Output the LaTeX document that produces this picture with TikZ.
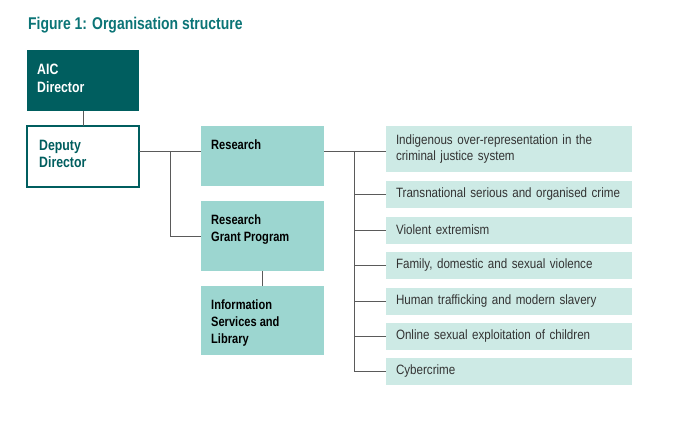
\documentclass[tikz,border=0pt]{standalone}
\usepackage{fontspec}
\setmainfont[FakeStretch=0.86, BoldFeatures={FakeStretch=0.82}]{Liberation Sans}
\usetikzlibrary{positioning}

\definecolor{aicdark}{HTML}{005E5F}
\definecolor{aicteal}{HTML}{0B7476}
\definecolor{aicmid}{HTML}{9CD6D0}
\definecolor{aiclight}{HTML}{CDEAE5}
\definecolor{aicline}{HTML}{5A5A5A}
\definecolor{aictext}{HTML}{333333}

\begin{document}
\begin{tikzpicture}[x=1pt, y=-1pt,
    unit/.style={anchor=north west, inner sep=0pt, outer sep=0pt},
    lead/.style={unit, minimum width=112pt, minimum height=61pt},
    branch/.style={unit, fill=aicmid, minimum width=123pt},
    topic/.style={unit, fill=aiclight, text=aictext, align=left, text width=226pt,
      inner xsep=10pt, minimum height=27pt, font=\fontsize{13.5}{16}\selectfont},
    lbl/.style={anchor=north west, inner sep=0pt, align=left, xshift=10pt, yshift=-14pt},
    link/.style={draw=aicline, line width=1pt}]
    \useasboundingbox (0,0) rectangle (682,436);

    \node[anchor=base west, inner sep=0pt, text=aicteal, font=\fontsize{17}{20}\bfseries\selectfont]
      (title) at (28,30) {Figure 1: Organisation structure};

    % leadership
    \node[lead, fill=aicdark,
      label={[lbl, text=white, font=\fontsize{15}{18}\bfseries\selectfont]north west:AIC\\Director}]
      (director) at (27,50) {};
    \node[lead, draw=aicdark, line width=2pt, fill=white,
      label={[lbl, xshift=2pt, text=aicdark, font=\fontsize{15}{17}\bfseries\selectfont]north west:Deputy\\Director}]
      (deputy) at (27,126) {};

    % branches
    \begin{scope}[every label/.style={font=\fontsize{13.5}{17}\bfseries\selectfont, text=black}]
      \node[branch, minimum height=60pt, label={[lbl]north west:Research}] (research) at (201,126) {};
      \node[branch, minimum height=70pt, label={[lbl]north west:Research\\Grant Program}] (grant) at (201,201) {};
      \node[branch, minimum height=69pt, label={[lbl]north west:Information\\Services and\\Library}] (library) at (201,286) {};
    \end{scope}

    % research topics
    \node[topic, minimum height=46pt] (indigenous) at (386,126)
      {Indigenous over-representation in the\\criminal justice system};
    \node[topic] (transnational) at (386,180.5) {Transnational serious and organised crime};
    \node[topic] (extremism) at (386,216.5) {Violent extremism};
    \node[topic] (family) at (386,252) {Family, domestic and sexual violence};
    \node[topic] (trafficking) at (386,287.5) {Human trafficking and modern slavery};
    \node[topic] (exploitation) at (386,322.5) {Online sexual exploitation of children};
    \node[topic] (cybercrime) at (386,358) {Cybercrime};

    \coordinate (fork) at (170,151);
    \coordinate (topics) at (354,151);

    \path[link]
    (director) edge (deputy)
    (grant) edge (library)
    (deputy.east |- fork) edge (research.west |- fork)
    (research.east |- topics) edge (indigenous.west |- topics);
    \draw[link] (fork) |- (grant.west);
    \draw[link] (topics) |- (cybercrime.west);
    \foreach \t in {transnational,extremism,family,trafficking,exploitation}
      \draw[link] (topics |- \t.west) -- (\t.west);
  \end{tikzpicture}
\end{document}
